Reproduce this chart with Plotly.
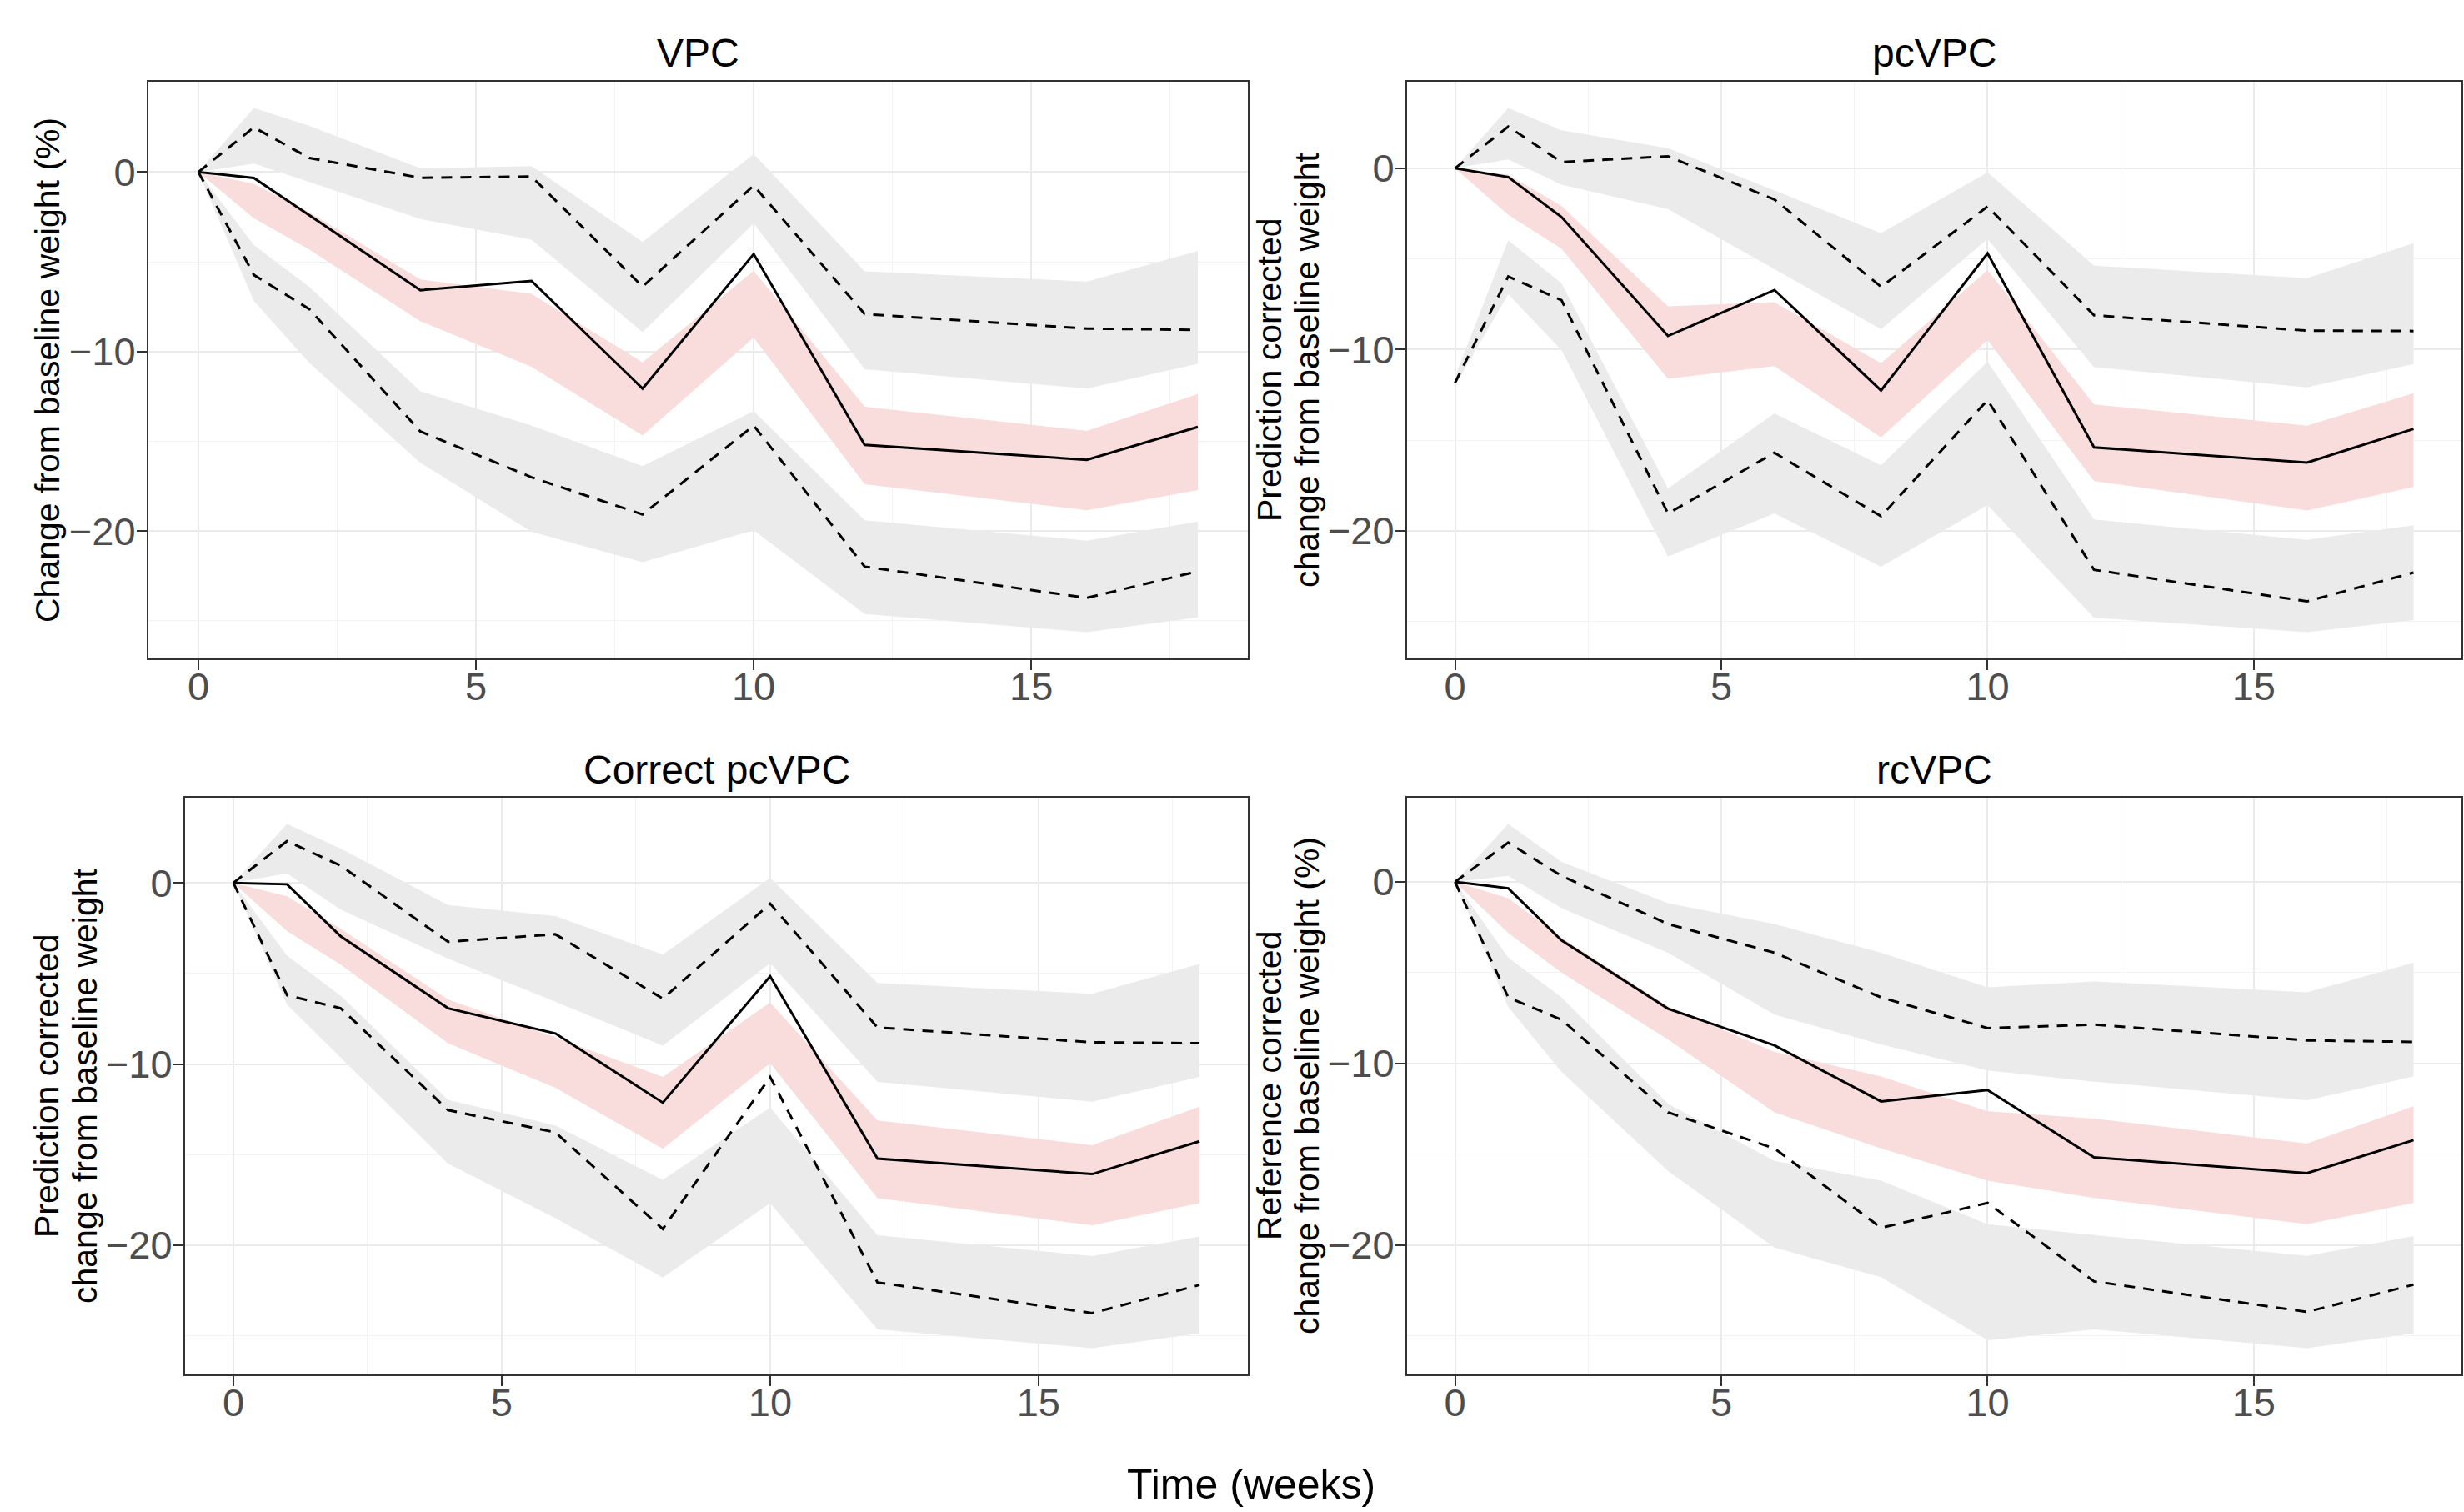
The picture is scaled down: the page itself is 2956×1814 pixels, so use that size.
import plotly.graph_objects as go

W, H = 2956, 1814

time = [0, 1, 2, 4, 6, 8, 10, 12, 16, 18]

# ---- VPC ----
vpc_med = [0, -0.33, -2.41, -6.58, -6.06, -12.06, -4.57, -15.2, -16.03, -14.2]
vpc_hi = [0, 2.49, 0.78, -0.32, -0.25, -6.38, -0.75, -7.91, -8.72, -8.79]
vpc_lo = [0, -5.73, -7.64, -14.45, -17.0, -19.07, -14.12, -21.98, -23.72, -22.24]
vpc_hi_up = [0, 3.57, 2.57, 0.2, 0.33, -3.89, 1.0, -5.53, -6.1, -4.4]
vpc_hi_dn = [0, 0.47, -0.55, -2.62, -3.77, -8.92, -2.86, -10.98, -12.06, -10.68]
vpc_med_up = [0, -0.66, -2.24, -5.98, -6.78, -10.6, -5.5, -13.07, -14.42, -12.36]
vpc_med_dn = [0, -2.57, -4.32, -8.31, -10.85, -14.67, -9.22, -17.39, -18.84, -17.71]
vpc_lo_up = [0, -4.07, -6.4, -12.21, -14.12, -16.38, -13.32, -19.4, -20.53, -19.47]
vpc_lo_dn = [0, -7.18, -10.63, -16.2, -20.03, -21.73, -19.95, -24.62, -25.63, -24.8]

# ---- pcVPC ----
pc_med = [0, -0.48, -2.69, -9.25, -6.72, -12.26, -4.7, -15.4, -16.24, -14.38]
pc_hi = [0, 2.3, 0.34, 0.66, -1.72, -6.54, -2.11, -8.11, -8.96, -8.98]
pc_lo = [-11.84, -5.97, -7.28, -19.05, -15.7, -19.2, -12.79, -22.16, -23.9, -22.31]
pc_hi_up = [0, 3.33, 2.1, 1.11, -1.22, -3.58, -0.22, -5.37, -6.07, -4.13]
pc_hi_dn = [0, 0.49, -0.9, -2.25, -5.57, -8.88, -3.9, -10.97, -12.09, -10.8]
pc_med_up = [0, -0.36, -2.08, -7.62, -7.39, -10.75, -5.62, -13.03, -14.2, -12.41]
pc_med_dn = [0, -2.57, -4.43, -11.62, -10.92, -14.85, -9.48, -17.26, -18.88, -17.59]
pc_lo_up = [-11.5, -3.97, -6.34, -17.66, -13.53, -16.39, -10.67, -19.38, -20.5, -19.7]
pc_lo_dn = [-12.0, -6.95, -10.03, -21.43, -19.05, -21.99, -18.58, -24.8, -25.6, -24.93]

# ---- Correct pcVPC ----
cpc_med = [0, -0.08, -2.95, -6.92, -8.31, -12.13, -5.16, -15.22, -16.07, -14.26]
cpc_hi = [0, 2.3, 0.95, -3.25, -2.84, -6.39, -1.15, -7.98, -8.8, -8.85]
cpc_lo = [0, -6.2, -6.92, -12.54, -13.77, -19.1, -10.71, -22.05, -23.74, -22.19]
cpc_hi_up = [0, 3.25, 1.89, -1.23, -1.83, -3.96, 0.27, -5.52, -6.12, -4.48]
cpc_hi_dn = [0, 0.52, -1.48, -4.18, -6.56, -8.99, -4.43, -10.98, -12.08, -10.71]
cpc_med_up = [0, -0.74, -2.54, -6.43, -8.52, -10.71, -6.61, -13.11, -14.48, -12.35]
cpc_med_dn = [0, -2.66, -4.51, -8.85, -11.31, -14.67, -9.95, -17.4, -18.9, -17.68]
cpc_lo_up = [0, -4.02, -6.23, -11.97, -13.39, -16.39, -12.4, -19.45, -20.6, -19.51]
cpc_lo_dn = [0, -6.72, -9.64, -15.49, -18.5, -21.78, -17.68, -24.64, -25.68, -24.86]

# ---- rcVPC ----
rc_med = [0, -0.35, -3.22, -6.98, -9.0, -12.09, -11.46, -15.17, -16.04, -14.22]
rc_hi = [0, 2.16, 0.33, -2.32, -3.9, -6.36, -8.05, -7.86, -8.73, -8.81]
rc_lo = [0, -6.36, -7.59, -12.69, -14.68, -19.05, -17.68, -22.0, -23.68, -22.18]
rc_hi_up = [0, 3.19, 1.1, -1.17, -2.32, -3.9, -5.81, -5.48, -6.08, -4.45]
rc_hi_dn = [0, 0.33, -1.45, -3.9, -7.31, -8.95, -10.39, -11.0, -12.03, -10.72]
rc_med_up = [0, -0.9, -3.08, -6.85, -9.36, -10.72, -12.63, -13.04, -14.41, -12.36]
rc_med_dn = [0, -2.81, -4.99, -8.68, -12.69, -14.68, -16.45, -17.41, -18.85, -17.68]
rc_lo_up = [0, -4.17, -6.36, -12.22, -15.36, -16.45, -18.85, -19.45, -20.6, -19.51]
rc_lo_dn = [0, -6.9, -10.45, -15.91, -20.14, -21.77, -25.24, -24.64, -25.68, -24.86]

panel_titles = ["VPC", "pcVPC", "Correct pcVPC", "rcVPC"]
y_titles = [
    ["Change from baseline weight (%)"],
    ["Prediction corrected", "change from baseline weight"],
    ["Prediction corrected", "change from baseline weight"],
    ["Reference corrected", "change from baseline weight (%)"],
]
x_title = "Time (weeks)"
x_ticks = [0, 5, 10, 15]
y_ticks = [0, -10, -20]

panels = [
    dict(med=vpc_med, hi=vpc_hi, lo=vpc_lo, hu=vpc_hi_up, hd=vpc_hi_dn,
         mu=vpc_med_up, md=vpc_med_dn, lu=vpc_lo_up, ld=vpc_lo_dn),
    dict(med=pc_med, hi=pc_hi, lo=pc_lo, hu=pc_hi_up, hd=pc_hi_dn,
         mu=pc_med_up, md=pc_med_dn, lu=pc_lo_up, ld=pc_lo_dn),
    dict(med=cpc_med, hi=cpc_hi, lo=cpc_lo, hu=cpc_hi_up, hd=cpc_hi_dn,
         mu=cpc_med_up, md=cpc_med_dn, lu=cpc_lo_up, ld=cpc_lo_dn),
    dict(med=rc_med, hi=rc_hi, lo=rc_lo, hu=rc_hi_up, hd=rc_hi_dn,
         mu=rc_med_up, md=rc_med_dn, lu=rc_lo_up, ld=rc_lo_dn),
]

# pixel boxes of the panels: (left, right, top, bottom)
boxes = [(178, 1497, 98, 790), (1688, 2953, 98, 790),
         (222, 1497, 957, 1649), (1688, 2953, 957, 1649)]
ytitle_x = [[57], [1523, 1568], [56, 102], [1523, 1568]]

FONT = "Liberation Sans, Arial, Helvetica, sans-serif"
GRAY = "#EBEBEB"
PINK = "#F9DCDC"

def px(x):
    return x / W

def py(y):
    return 1 - y / H

fig = go.Figure()
annotations = []
for i, p in enumerate(panels):
    n = i + 1
    xa = "x" if n == 1 else f"x{n}"
    ya = "y" if n == 1 else f"y{n}"
    for up, dn, col in [(p["hu"], p["hd"], GRAY), (p["lu"], p["ld"], GRAY), (p["mu"], p["md"], PINK)]:
        fig.add_trace(go.Scatter(
            x=time + time[::-1], y=up + dn[::-1], fill="toself", fillcolor=col,
            mode="lines", line=dict(width=0, color=col), hoverinfo="skip",
            showlegend=False, xaxis=xa, yaxis=ya))
    for key, dash in [("hi", "13px,10px"), ("lo", "13px,10px"), ("med", "solid")]:
        fig.add_trace(go.Scatter(
            x=time, y=p[key], mode="lines", line=dict(color="black", width=3, dash=dash),
            showlegend=False, xaxis=xa, yaxis=ya))

    allv = p["hu"] + p["hd"] + p["lu"] + p["ld"] + p["mu"] + p["md"] + p["hi"] + p["lo"] + p["med"]
    vmin, vmax = min(allv), max(allv)
    pad = 0.05 * (vmax - vmin)
    l, r, t, b = boxes[i]
    axcommon = dict(
        showline=True, mirror=True, linecolor="#333333", linewidth=2,
        ticks="outside", ticklen=12, tickwidth=2, tickcolor="#333333",
        tickfont=dict(family=FONT, size=47, color="#4D4D4D"),
        showgrid=True, gridcolor=GRAY, gridwidth=2, zeroline=False,
    )
    fig.layout[f"xaxis{'' if n == 1 else n}"] = dict(
        axcommon, domain=[px(l), px(r)], range=[-0.9, 18.9],
        tickvals=x_ticks, anchor=ya, ticklabelstandoff=-20,
        minor=dict(dtick=2.5, tick0=0, showgrid=True, gridcolor="#F3F3F3", gridwidth=1))
    fig.layout[f"yaxis{'' if n == 1 else n}"] = dict(
        axcommon, domain=[py(b), py(t)], range=[vmin - pad, vmax + pad],
        tickvals=y_ticks, anchor=xa, ticklabelstandoff=-8,
        minor=dict(dtick=5, tick0=0, showgrid=True, gridcolor="#F3F3F3", gridwidth=1))

    annotations.append(dict(
        text=panel_titles[i], x=px((l + r) / 2), y=py(t - 34), xref="paper", yref="paper",
        xanchor="center", yanchor="middle", showarrow=False,
        font=dict(family=FONT, size=48, color="black")))
    for line, xc in zip(y_titles[i], ytitle_x[i]):
        annotations.append(dict(
            text=line, x=px(xc), y=py((t + b) / 2), xref="paper", yref="paper",
            xanchor="center", yanchor="middle", textangle=-90, showarrow=False,
            font=dict(family=FONT, size=41, color="black")))

annotations.append(dict(
    text=x_title, x=px(1501), y=py(1781), xref="paper", yref="paper",
    xanchor="center", yanchor="middle", showarrow=False,
    font=dict(family=FONT, size=50, color="black")))

fig.update_layout(
    width=W, height=H, margin=dict(l=0, r=0, t=0, b=0),
    paper_bgcolor="white", plot_bgcolor="white",
    annotations=annotations, showlegend=False,
    font=dict(family=FONT),
)

fig.write_html(
    "out.html",
    config={"displayModeBar": False},
    post_script="document.body.style.margin='0';document.body.style.overflow='hidden';",
)
